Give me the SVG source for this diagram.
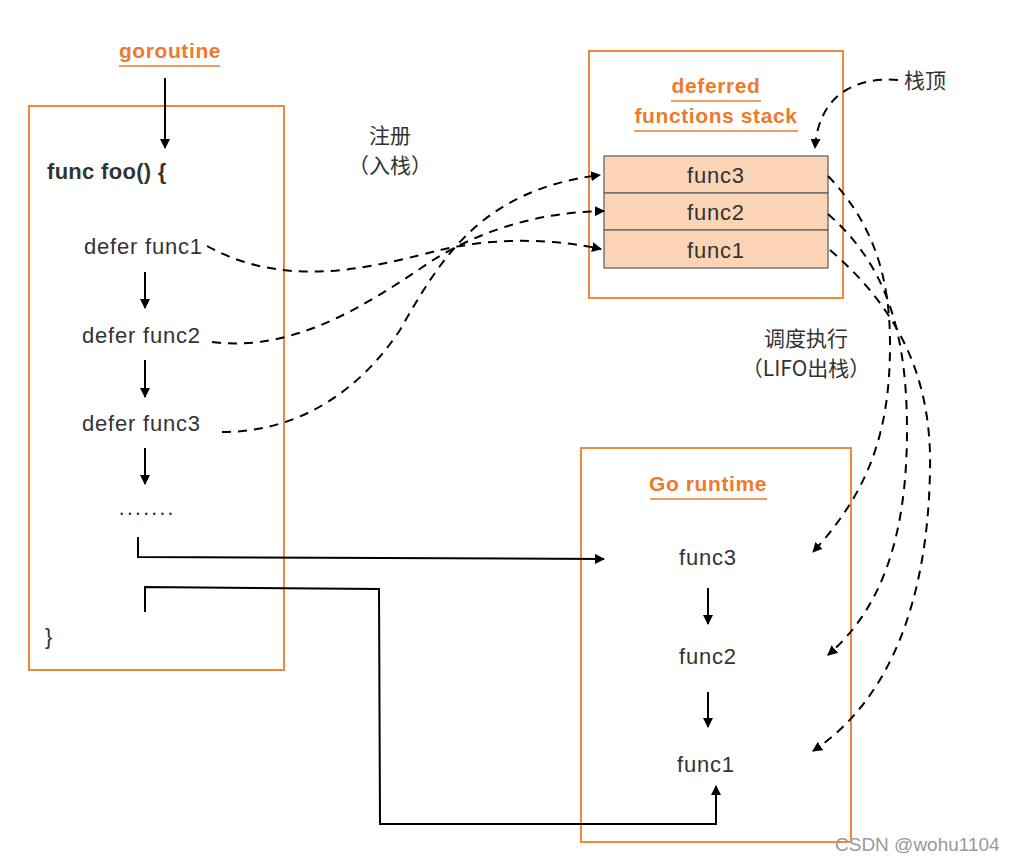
<svg xmlns="http://www.w3.org/2000/svg" width="1014" height="861" viewBox="0 0 1014 861">
<defs>
<marker id="ah" viewBox="0 0 10 10" refX="9" refY="5" markerWidth="10" markerHeight="10" markerUnits="userSpaceOnUse" orient="auto">
<path d="M0,0 L10,5 L0,10 z" fill="#000"/>
</marker>
</defs>
<style>
.box{fill:none;stroke:#F0883A;stroke-width:2}
.title{font-family:"Liberation Sans","Noto Sans",sans-serif;font-size:21px;font-weight:bold;fill:#EE7A2C;text-anchor:middle;letter-spacing:0.6px}
.ul{stroke:#EE7A2C;stroke-width:1.5}
.t{font-family:"Liberation Sans","Noto Sans","Noto Sans CJK SC",sans-serif;font-size:22px;fill:#333;letter-spacing:0.8px}
.z{font-family:"Noto Sans CJK SC","Liberation Sans",sans-serif;font-size:21px;fill:#333}
.c{text-anchor:middle}
.cell{fill:#FAD4B4;stroke:#666;stroke-width:1.3}
.solid{fill:none;stroke:#000;stroke-width:2}
.dash{fill:none;stroke:#000;stroke-width:2;stroke-dasharray:9 7}
</style>
<rect width="1014" height="861" fill="#fff"/>

<g id="goroutine">
<text class="title" x="170" y="58">goroutine</text>
<line class="ul" x1="119" y1="66" x2="220" y2="66"/>
</g>

<g id="foo">
<rect class="box" x="29" y="106" width="255" height="564"/>
<text class="t" x="47" y="179" font-weight="bold" style="letter-spacing:0.3px">func foo() {</text>
<text class="t" x="84" y="254">defer func1</text>
<text class="t" x="82" y="343">defer func2</text>
<text class="t" x="82" y="431">defer func3</text>
<text class="t" x="118" y="520" letter-spacing="1">·······</text>
<text class="t" x="45" y="644">}</text>
</g>

<g id="stack">
<rect class="box" x="589" y="51" width="254" height="247"/>
<text class="title" x="716" y="93">deferred</text>
<line class="ul" x1="671" y1="101" x2="761" y2="101"/>
<text class="title" x="716" y="123">functions stack</text>
<line class="ul" x1="634" y1="131" x2="798" y2="131"/>
<rect class="cell" x="604" y="156" width="224" height="37"/>
<rect class="cell" x="604" y="193" width="224" height="37"/>
<rect class="cell" x="604" y="230" width="224" height="38"/>
<text class="t c" x="716" y="183">func3</text>
<text class="t c" x="716" y="220">func2</text>
<text class="t c" x="716" y="258">func1</text>
</g>

<g id="runtime">
<rect class="box" x="581" y="448" width="270" height="394"/>
<text class="title" x="708" y="491">Go runtime</text>
<line class="ul" x1="650" y1="499" x2="767" y2="499"/>
<text class="t c" x="708" y="565">func3</text>
<text class="t c" x="708" y="664">func2</text>
<text class="t c" x="706" y="772">func1</text>
</g>

<g id="labels">
<text class="z c" x="390" y="143">注册</text>
<text class="z c" x="390" y="173">（入栈）</text>
<text class="z c" x="806" y="346">调度执行</text>
<text class="z c" x="806" y="376">（LIFO出栈）</text>
<text class="z" x="904" y="88">栈顶</text>
</g>

<g id="connectors">
<line class="solid" x1="165" y1="78" x2="165" y2="148" marker-end="url(#ah)"/>
<line class="solid" x1="145" y1="272" x2="145" y2="308" marker-end="url(#ah)"/>
<line class="solid" x1="145" y1="360" x2="145" y2="397" marker-end="url(#ah)"/>
<line class="solid" x1="145" y1="448" x2="145" y2="484" marker-end="url(#ah)"/>
<line class="solid" x1="708" y1="588" x2="708" y2="624" marker-end="url(#ah)"/>
<line class="solid" x1="708" y1="692" x2="708" y2="727" marker-end="url(#ah)"/>
<path class="solid" d="M138,537 L138,557 L604,559" marker-end="url(#ah)"/>
<path class="solid" d="M145,612 L145,587 L379,589 L380,824 L716,824 L716,786" marker-end="url(#ah)"/>

<path class="dash" d="M207,246 C290,292 380,265 440,250 C500,236 560,240 601,249" marker-end="url(#ah)"/>
<path class="dash" d="M212,342 C290,352 360,310 430,262 C480,230 540,212 604,211" marker-end="url(#ah)"/>
<path class="dash" d="M222,432 C300,432 360,390 400,330 C440,260 480,190 600,175" marker-end="url(#ah)"/>
<path class="dash" d="M898,80 C850,76 818,100 815,148" marker-end="url(#ah)"/>

<path class="dash" d="M828,176 C880,230 890,290 890,345 C890,430 870,490 813,552" marker-end="url(#ah)"/>
<path class="dash" d="M828,214 C880,260 907,320 907,430 C907,540 880,610 828,655" marker-end="url(#ah)"/>
<path class="dash" d="M830,250 C900,310 932,380 930,470 C928,600 890,700 813,751" marker-end="url(#ah)"/>
</g>

<text x="835" y="851" font-family="Liberation Sans,sans-serif" font-size="19" fill="#999">CSDN @wohu1104</text>
</svg>
